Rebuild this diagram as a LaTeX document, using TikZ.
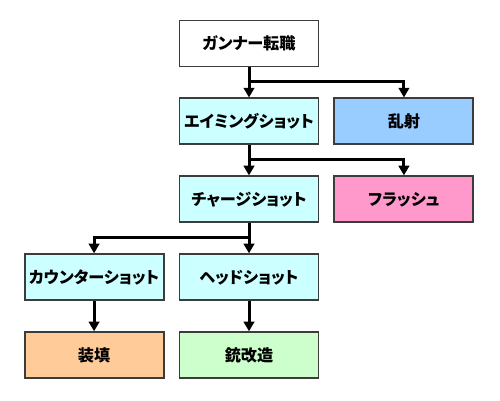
\documentclass[tikz,border=0pt]{standalone}
\usepackage{fontspec}
\setmainfont{Noto Sans CJK JP}[RawFeature=+palt]
\usepackage{tikz}
\usetikzlibrary{arrows.meta, positioning}
\usepackage{xcolor}

\definecolor{skillcyan}{HTML}{CCFFFF}
\definecolor{skillblue}{HTML}{99CCFF}
\definecolor{skillpink}{HTML}{FF99CC}
\definecolor{skillorange}{HTML}{FFCC99}
\definecolor{skillgreen}{HTML}{CCFFCC}
\definecolor{boxline}{HTML}{3C3C3C}

\begin{document}
\begin{tikzpicture}[
    node distance=0.6cm and 0.28cm,
    >={Triangle[width=6pt,length=5.5pt]},
    every node/.style={font=\bfseries\fontsize{9.2pt}{11pt}\selectfont},
    skill/.style={rectangle, draw=boxline, line width=1.1pt, align=center, minimum width=2.78cm, minimum height=0.92cm, inner sep=0pt},
    conn/.style={->, line width=1.7pt}
  ]
  \useasboundingbox (0,0) rectangle (10,8);

  \node[skill, fill=white] (gunner) at (4.98,7.13) {ガンナー転職};
  \node[skill, fill=skillcyan, below=of gunner] (aim) {エイミングショット};
  \node[skill, fill=skillblue, right=of aim] (ransha) {乱射};
  \node[skill, fill=skillcyan, below=of aim] (charge) {チャージショット};
  \node[skill, fill=skillpink, right=of charge] (flash) {フラッシュ};
  \node[skill, fill=skillcyan, below=of charge] (head) {ヘッドショット};
  \node[skill, fill=skillcyan, left=of head] (counter) {カウンターショット};
  \node[skill, fill=skillorange, below=of counter] (reload) {装填};
  \node[skill, fill=skillgreen, below=of head] (gunmod) {銃改造};

  \coordinate[below=0.28cm of gunner] (fork1);
  \coordinate[below=0.28cm of aim] (fork2);
  \coordinate[below=0.28cm of charge] (fork3);

  \draw[conn] (gunner) -- (aim);
  \draw[conn] (fork1) -| (ransha);
  \draw[conn] (aim) -- (charge);
  \draw[conn] (fork2) -| (flash);
  \draw[conn] (charge) -- (head);
  \draw[conn] (fork3) -| (counter);
  \draw[conn] (counter) -- (reload);
  \draw[conn] (head) -- (gunmod);

\end{tikzpicture}
\end{document}
